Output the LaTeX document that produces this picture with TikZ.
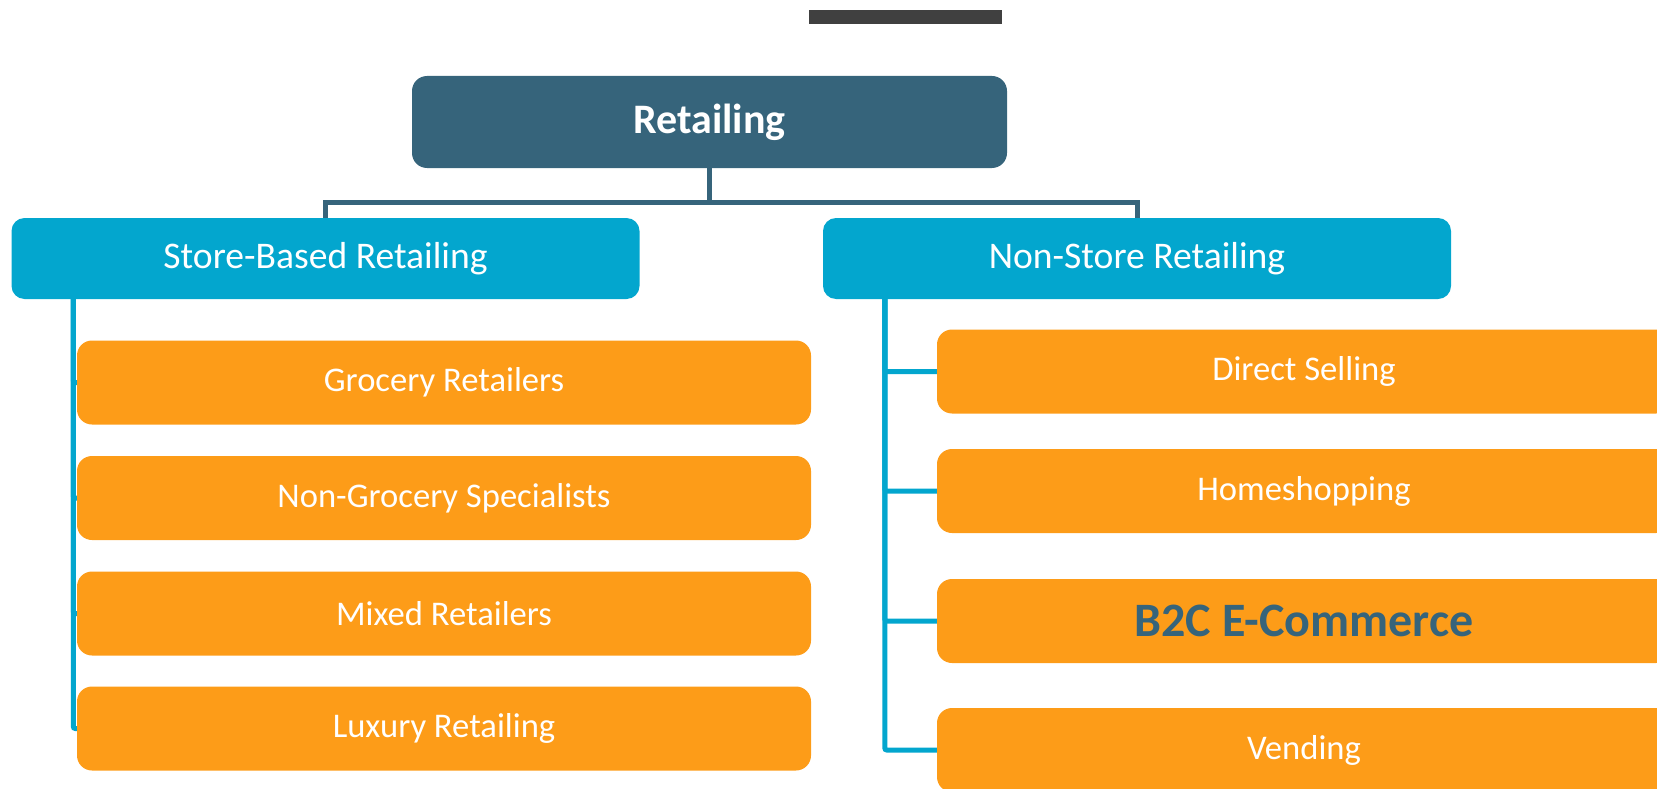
\documentclass[tikz,border=0pt]{standalone}
\usepackage{fontspec}
\setmainfont{Carlito}
\usetikzlibrary{positioning}
\definecolor{retailnavy}{RGB}{54,100,123}
\definecolor{retailcyan}{RGB}{3,166,206}
\definecolor{retailorange}{RGB}{253,156,24}
\definecolor{bargray}{RGB}{64,64,64}
\tikzset{
        boxnode/.style={align=center,inner sep=0pt,rectangle,text=white},
        % Root node
        node_root/.style={boxnode, fill=retailnavy, rounded corners=15pt, minimum width=595pt, minimum height=92pt, font=\fontsize{42}{46}\selectfont\bfseries},
        % Group nodes
        node_group/.style={boxnode, fill=retailcyan, rounded corners=13pt, minimum width=628pt, minimum height=81pt, font=\fontsize{37.6}{42}\selectfont},
        % Item nodes
        node_item/.style={boxnode, fill=retailorange, rounded corners=15pt, minimum width=734pt, minimum height=84pt, font=\fontsize{34.6}{40}\selectfont},
        % Highlighted item
        node_key/.style={node_item, text=retailnavy, font=\fontsize{48}{52}\selectfont\bfseries},
        % Connectors
        link_navy/.style={draw=retailnavy, line width=5pt},
        link_cyan/.style={draw=retailcyan, line width=5pt, rounded corners=2pt}
}
\begin{document}
\begin{tikzpicture}[x=1pt, y=-1pt]
    \useasboundingbox (0,0) rectangle (1657,789);
    \node[fill=bargray, inner sep=0pt, minimum width=193pt, minimum height=14pt] (topbar) at (905.5,17) {};
    \node[node_root] (root) at (709.5,122) {Retailing};
    \node[node_group] (store) at (325.5,258.5) {Store-Based Retailing};
    \node[node_group] (nonstore) at (1137,258.5) {Non-Store Retailing};
    % store-based
    \node[node_item] (groc) at (444,382.5) {Grocery Retailers};
    \node[node_item] (nongroc) at (444,498) {Non-Grocery Specialists};
    \node[node_item] (mixed) at (444,613.5) {Mixed Retailers};
    \node[node_item] (lux) at (444,728.5) {Luxury Retailing};
    % non-store
    \node[node_item] (direct) at (1304,371.5) {Direct Selling};
    \node[node_item] (home) at (1304,491) {Homeshopping};
    \node[node_key] (b2c) at (1304,621) {B2C E-Commerce};
    \node[node_item] (vend) at (1304,750) {Vending};
    % connectors
    \draw[link_navy] (root.south) -- ++(0,34) -| (store.north);
    \draw[link_navy] (root.south) -- ++(0,34) -| (nonstore.north);
    \foreach \n in {groc,nongroc,mixed,lux}
        \draw[link_cyan] ([xshift=62pt]store.south west) |- (\n.west);
    \foreach \n in {direct,home,b2c,vend}
        \draw[link_cyan] ([xshift=62pt]nonstore.south west) |- (\n.west);
\end{tikzpicture}
\end{document}
